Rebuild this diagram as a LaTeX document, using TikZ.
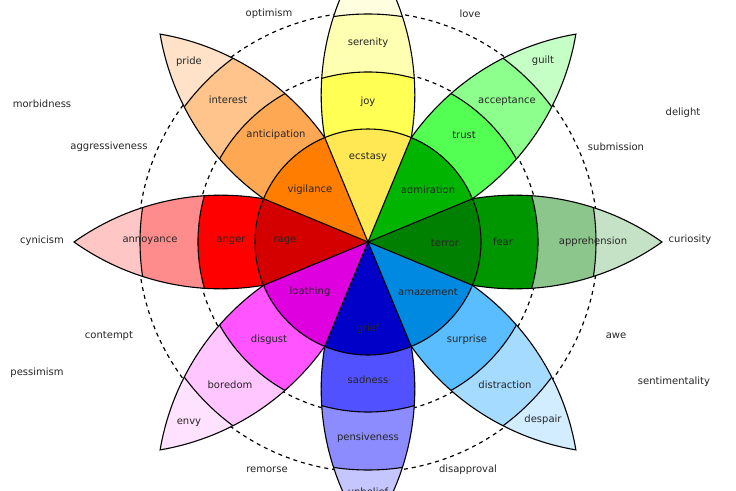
\documentclass[tikz,border=0pt]{standalone}
\usepackage{fontspec}
\setmainfont{DejaVu Sans}
\usepackage{tikz}

% petal colours: A inner, B middle, C outer band, T tip
\definecolor{joyA}{HTML}{FFE854}\definecolor{joyB}{HTML}{FFFF54}
\definecolor{joyC}{HTML}{FFFFB1}\definecolor{joyT}{HTML}{FFFFE0}
\definecolor{trustA}{HTML}{00B400}\definecolor{trustB}{HTML}{54FF54}
\definecolor{trustC}{HTML}{8CFF8C}\definecolor{trustT}{HTML}{C6FFC6}
\definecolor{fearA}{HTML}{008000}\definecolor{fearB}{HTML}{009600}
\definecolor{fearC}{HTML}{8CC68C}\definecolor{fearT}{HTML}{C6E2C6}
\definecolor{surpA}{HTML}{0089E0}\definecolor{surpB}{HTML}{59BDFF}
\definecolor{surpC}{HTML}{A5DBFF}\definecolor{surpT}{HTML}{D2EDFF}
\definecolor{sadA}{HTML}{0000C8}\definecolor{sadB}{HTML}{5151FF}
\definecolor{sadC}{HTML}{8C8CFF}\definecolor{sadT}{HTML}{C6C6FF}
\definecolor{disgA}{HTML}{DE00DE}\definecolor{disgB}{HTML}{FF54FF}
\definecolor{disgC}{HTML}{FFC6FF}\definecolor{disgT}{HTML}{FFE2FF}
\definecolor{angA}{HTML}{D40000}\definecolor{angB}{HTML}{FF0000}
\definecolor{angC}{HTML}{FF8C8C}\definecolor{angT}{HTML}{FFC6C6}
\definecolor{antA}{HTML}{FF7D00}\definecolor{antB}{HTML}{FFA854}
\definecolor{antC}{HTML}{FFC48C}\definecolor{antT}{HTML}{FFE2C8}

\newcommand{\petalshape}{(294,0) arc[start angle=54.66, end angle=125.34, radius=254.1pt]
  arc[start angle=234.66, end angle=305.34, radius=254.1pt] -- cycle}

\tikzset{
  emo/.style={font=\fontsize{10}{12}\selectfont, text=black!85, inner sep=0pt},
  ring/.style={line width=1.2pt, dash pattern=on 4pt off 4pt},
  rim/.style={line width=1.1pt, black}
}

\begin{document}
\begin{tikzpicture}[x=1pt,y=1pt]
\useasboundingbox (-368,-248) rectangle (368,242);
\clip (-368,-248) rectangle (368,242);
\fill[white] (-368,-248) rectangle (368,242);
% dashed rings
\draw[ring] (0,0) circle (172pt);
\draw[ring] (0,0) circle (230pt);
% petals
\foreach \ang/\tipc/\outc/\midc in {90/joyT/joyC/joyB, 45/trustT/trustC/trustB,
    0/fearT/fearC/fearB, -45/surpT/surpC/surpB, -90/sadT/sadC/sadB,
    -135/disgT/disgC/disgB, 180/angT/angC/angB, 135/antT/antC/antB}{
  \begin{scope}[rotate=\ang]
    \begin{scope}
      \clip \petalshape;
      \fill[\tipc] (0,0) circle (300pt);
      \fill[\outc] (0,0) circle (228pt);
      \fill[\midc] (0,0) circle (170pt);
      \draw[rim] (0,0) circle (228pt) (0,0) circle (170pt);
    \end{scope}
    \draw[rim] \petalshape;
  \end{scope}
}
% inner circle
\foreach \ang/\inc in {90/joyA, 45/trustA, 0/fearA, -45/surpA, -90/sadA,
    -135/disgA, 180/angA, 135/antA}{
  \fill[\inc] (0,0) -- (\ang-22.5:113) arc[start angle=\ang-22.5, end angle=\ang+22.5, radius=113pt] -- cycle;
}
\foreach \ang in {22.5,67.5,...,337.5} \draw[rim] (0,0) -- (\ang:113);
\draw[rim] (0,0) circle (113pt);

\node[emo] (serenity) at (0,199) {serenity};
\node[emo] (joy) at (0,140) {joy};
\node[emo] (ecstasy) at (0,85) {ecstasy};
\node[emo] (guilt) at (175,181) {guilt};
\node[emo] (acceptance) at (139,141) {acceptance};
\node[emo] (trust) at (96,107) {trust};
\node[emo] (admiration) at (60,52) {admiration};
\node[emo] (apprehension) at (225,0) {apprehension};
\node[emo] (fear) at (135,0) {fear};
\node[emo] (terror) at (77,-1) {terror};
\node[emo] (despair) at (175,-178) {despair};
\node[emo] (distraction) at (137,-143) {distraction};
\node[emo] (surprise) at (99,-98) {surprise};
\node[emo] (amazement) at (60,-50) {amazement};
\node[emo] (grief) at (0,-87) {grief};
\node[emo] (sadness) at (0,-138) {sadness};
\node[emo] (pensiveness) at (0,-196) {pensiveness};
\node[emo] (unbelief) at (0,-250) {unbelief};
\node[emo] (envy) at (-179,-181) {envy};
\node[emo] (boredom) at (-138,-143) {boredom};
\node[emo] (disgust) at (-99,-98) {disgust};
\node[emo] (loathing) at (-58,-50) {loathing};
\node[emo] (annoyance) at (-218,1) {annoyance};
\node[emo] (anger) at (-137,1) {anger};
\node[emo] (rage) at (-83,1) {rage};
\node[emo] (pride) at (-179,180) {pride};
\node[emo] (interest) at (-140,142) {interest};
\node[emo] (anticipation) at (-92,107) {anticipation};
\node[emo] (vigilance) at (-58,52) {vigilance};
% dyads
\node[emo] (optimism) at (-99,228) {optimism};
\node[emo] (love) at (102,228) {love};
\node[emo] (delight) at (315,129) {delight};
\node[emo] (submission) at (248,95) {submission};
\node[emo] (curiosity) at (322,2) {curiosity};
\node[emo] (awe) at (248,-94) {awe};
\node[emo] (sentimentality) at (306,-140) {sentimentality};
\node[emo] (disapproval) at (100,-228) {disapproval};
\node[emo] (remorse) at (-101,-228) {remorse};
\node[emo] (pessimism) at (-331,-131) {pessimism};
\node[emo] (contempt) at (-259,-94) {contempt};
\node[emo] (cynicism) at (-326,1) {cynicism};
\node[emo] (aggressiveness) at (-259,95) {aggressiveness};
\node[emo] (morbidness) at (-326,138) {morbidness};
\end{tikzpicture}
\end{document}
